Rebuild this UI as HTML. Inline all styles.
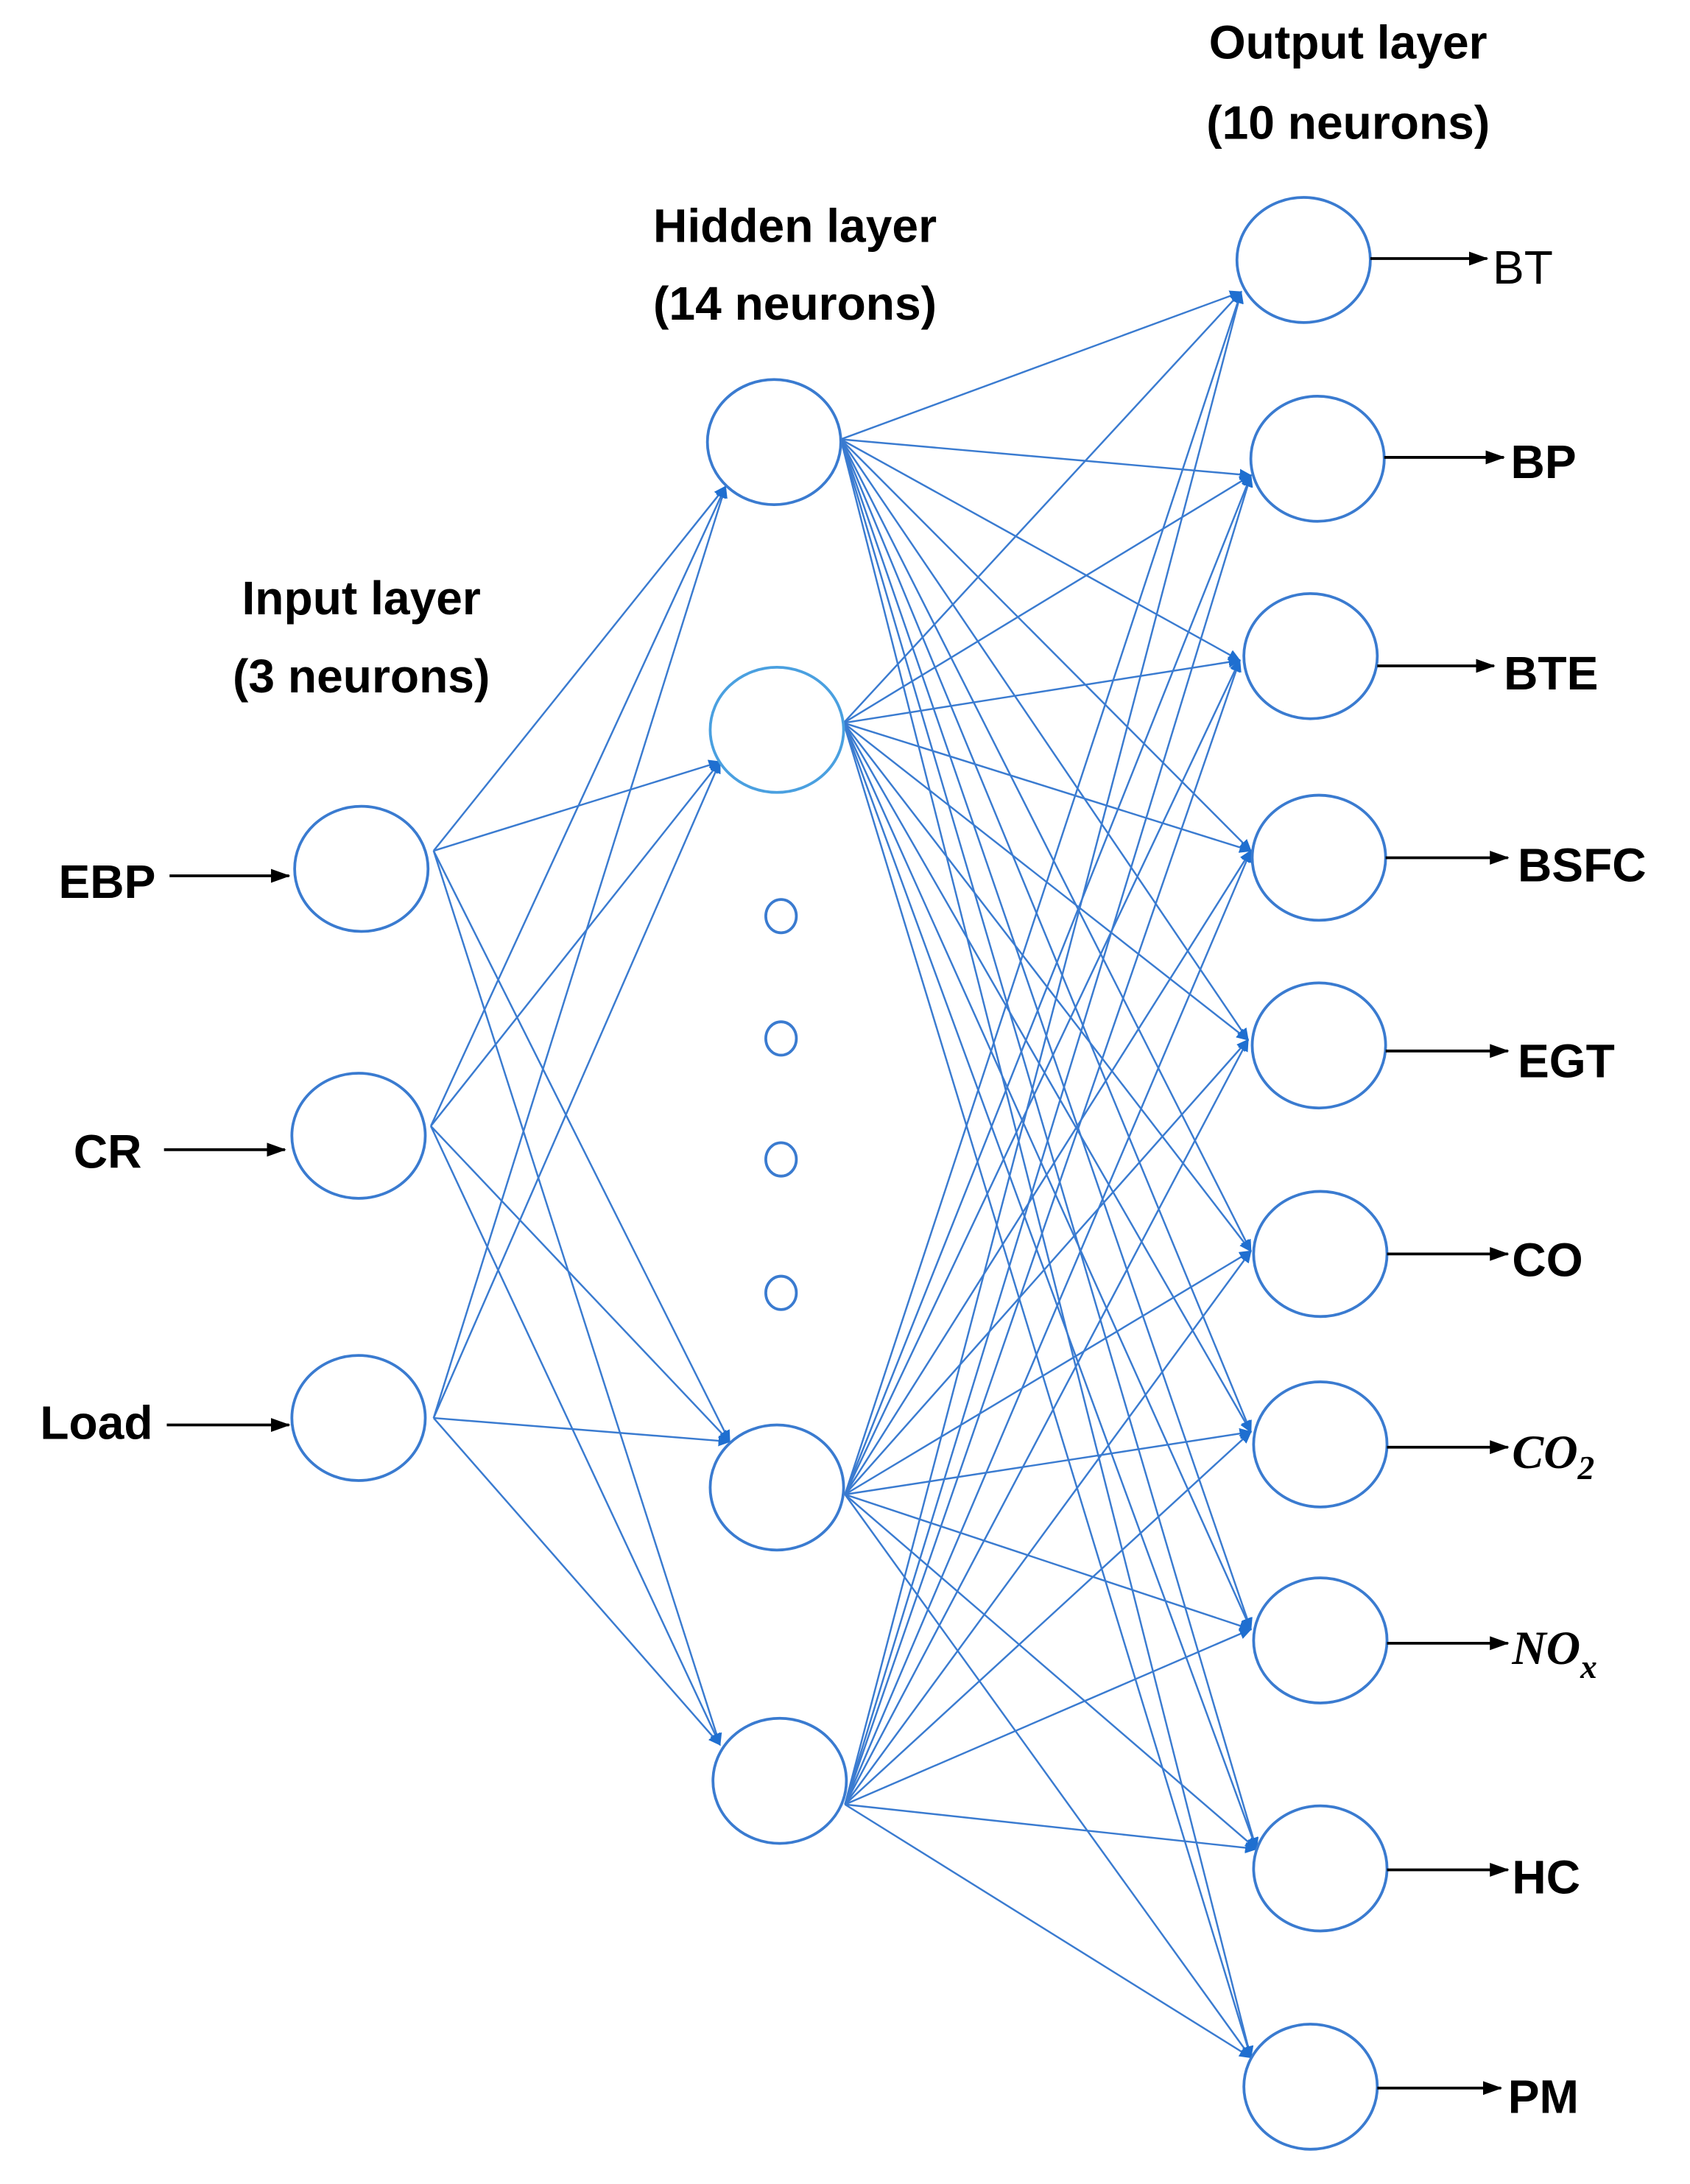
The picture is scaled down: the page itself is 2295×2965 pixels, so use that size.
<!DOCTYPE html>
<html><head><meta charset="utf-8"><style>
html,body{margin:0;padding:0;background:#fff;}
svg{display:block;}
text{font-family:"Liberation Sans",Arial,sans-serif;font-weight:bold;font-size:34px;fill:#000;}
.m{font-family:"Liberation Serif",serif;font-style:italic;font-weight:bold;}
</style></head><body>
<svg width="2295" height="2965" viewBox="0 0 1216 1571" xmlns="http://www.w3.org/2000/svg">
<defs>
<marker id="b" markerWidth="9" markerHeight="8" refX="8" refY="4" orient="auto" markerUnits="userSpaceOnUse"><path d="M0,0 L9,4 L0,8 Z" fill="#1f6fd0" transform="scale(1.6) translate(-3.4,-1.5)"/></marker>
<marker id="k" markerWidth="14" markerHeight="12" refX="13" refY="6" orient="auto" markerUnits="userSpaceOnUse"><path d="M0,1 L14,6 L0,11 Z" fill="#000"/></marker>
</defs>
<g stroke="#3a7bd0" stroke-width="1.3" fill="none" marker-end="url(#b)">
<!-- input to hidden -->
<line x1="312" y1="612" x2="522" y2="350"/><line x1="312" y1="612" x2="518" y2="548"/><line x1="312" y1="612" x2="525" y2="1037"/><line x1="312" y1="612" x2="518" y2="1255"/>
<line x1="310" y1="810" x2="522" y2="350"/><line x1="310" y1="810" x2="518" y2="548"/><line x1="310" y1="810" x2="525" y2="1037"/><line x1="310" y1="810" x2="518" y2="1255"/>
<line x1="312" y1="1020" x2="522" y2="350"/><line x1="312" y1="1020" x2="518" y2="548"/><line x1="312" y1="1020" x2="525" y2="1037"/><line x1="312" y1="1020" x2="518" y2="1255"/>
</g>
<g stroke="#3a7bd0" stroke-width="1.3" fill="none" marker-end="url(#b)" id="ho"></g>
<g fill="#fff" stroke="#3a7bd0" stroke-width="2">
<ellipse cx="260" cy="625" rx="48" ry="45"/><ellipse cx="258" cy="817" rx="48" ry="45"/><ellipse cx="258" cy="1020" rx="48" ry="45"/>
<ellipse cx="557" cy="318" rx="48" ry="45"/><ellipse cx="559" cy="525" rx="48" ry="45" stroke="#4aa0e0"/><ellipse cx="559" cy="1070" rx="48" ry="45"/><ellipse cx="561" cy="1281" rx="48" ry="45"/>
<ellipse cx="562" cy="659" rx="11" ry="12"/><ellipse cx="562" cy="747" rx="11" ry="12"/><ellipse cx="562" cy="834" rx="11" ry="12"/><ellipse cx="562" cy="930" rx="11" ry="12"/>
<ellipse cx="938" cy="187" rx="48" ry="45"/><ellipse cx="948" cy="330" rx="48" ry="45"/><ellipse cx="943" cy="472" rx="48" ry="45"/><ellipse cx="949" cy="617" rx="48" ry="45"/><ellipse cx="949" cy="752" rx="48" ry="45"/><ellipse cx="950" cy="902" rx="48" ry="45"/><ellipse cx="950" cy="1039" rx="48" ry="45"/><ellipse cx="950" cy="1180" rx="48" ry="45"/><ellipse cx="950" cy="1344" rx="48" ry="45"/><ellipse cx="943" cy="1501" rx="48" ry="45"/>
</g>
<g stroke="#000" stroke-width="2" marker-end="url(#k)">
<line x1="122" y1="630" x2="208" y2="630"/><line x1="118" y1="827" x2="205" y2="827"/><line x1="120" y1="1025" x2="208" y2="1025"/>
<line x1="986" y1="186" x2="1070" y2="186"/><line x1="996" y1="329" x2="1082" y2="329"/><line x1="991" y1="479" x2="1075" y2="479"/><line x1="997" y1="617" x2="1085" y2="617"/><line x1="997" y1="756" x2="1085" y2="756"/><line x1="998" y1="902" x2="1085" y2="902"/><line x1="998" y1="1041" x2="1085" y2="1041"/><line x1="998" y1="1182" x2="1085" y2="1182"/><line x1="998" y1="1345" x2="1085" y2="1345"/><line x1="991" y1="1502" x2="1080" y2="1502"/>
</g>
<g text-anchor="middle">
<text x="970" y="42">Output layer</text><text x="970" y="100">(10 neurons)</text>
<text x="572" y="174">Hidden layer</text><text x="572" y="230">(14 neurons)</text>
<text x="260" y="442">Input layer</text><text x="260" y="498">(3 neurons)</text>
</g>
<g text-anchor="end">
<text x="112" y="646">EBP</text><text x="102" y="840">CR</text><text x="110" y="1035">Load</text>
</g>
<text x="1074" y="204" style="font-weight:normal">BT</text>
<text x="1087" y="344">BP</text>
<text x="1082" y="496">BTE</text>
<text x="1092" y="634">BSFC</text>
<text x="1092" y="775">EGT</text>
<text x="1088" y="918">CO</text>
<text x="1088" y="1056" class="m">CO<tspan font-size="24" dy="8">2</tspan></text>
<text x="1088" y="1197" class="m">NO<tspan font-size="24" dy="10">x</tspan></text>
<text x="1088" y="1362">HC</text>
<text x="1085" y="1520">PM</text>
<script>
var g=document.getElementById('ho');
var hs=[[605,316],[607,520],[608,1075],[608,1298]];
var os=[[893,210],[900,342],[892,475],[900,612],[898,748],[900,900],[900,1030],[900,1172],[904,1330],[900,1480]];
hs.forEach(function(h){os.forEach(function(o){var l=document.createElementNS('http://www.w3.org/2000/svg','line');l.setAttribute('x1',h[0]);l.setAttribute('y1',h[1]);l.setAttribute('x2',o[0]);l.setAttribute('y2',o[1]);g.appendChild(l);});});
</script>
</svg>
</body></html>
